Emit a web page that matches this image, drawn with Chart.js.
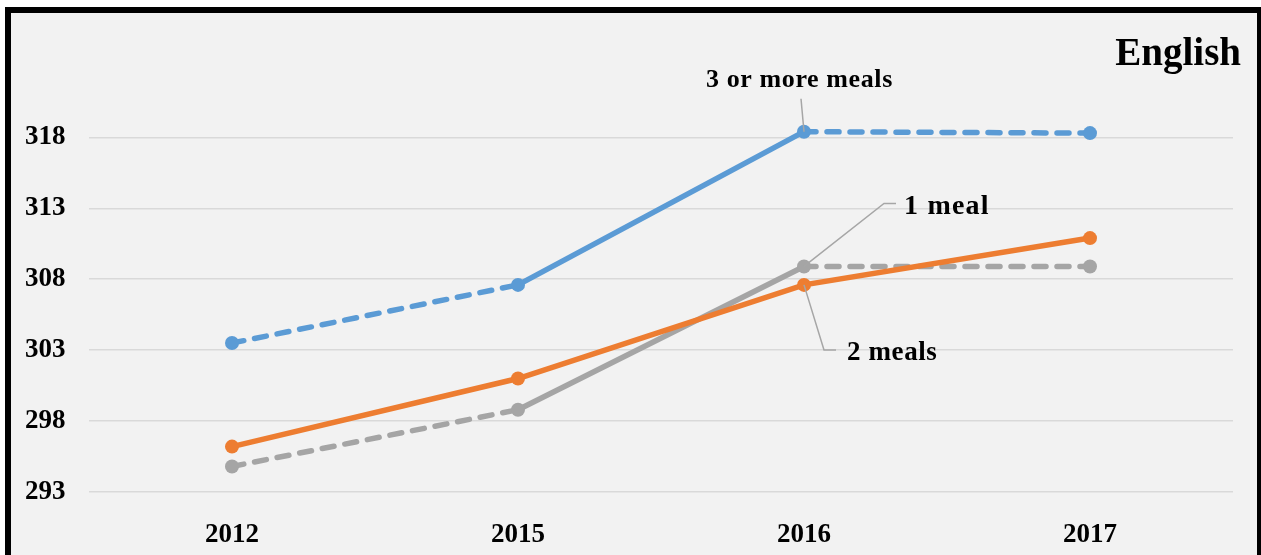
<!DOCTYPE html>
<html>
<head>
<meta charset="utf-8">
<script src="https://cdn.jsdelivr.net/npm/chart.js@4/dist/chart.umd.min.js"></script>
<style>
  body { margin: 0; background: #fff; }
  #frame {
    position: absolute; left: 5px; top: 7px;
    width: 1246px; height: 560px;
    border-left: 6px solid #000; border-top: 6px solid #000; border-right: 4px solid #000;
    background: #f2f2f2;
  }
  #wrap { position: absolute; left: 0; top: 0; width: 1261px; height: 555px; }
</style>
</head>
<body>
<div id="frame"></div>
<div id="wrap"><canvas id="english"></canvas></div>
<script>
// English scores by number of meals
const years = ['2012', '2015', '2016', '2017'];
const threeOrMore = [303.5, 307.6, 318.4, 318.3];
const twoMeals = [296.2, 301.0, 307.6, 310.9];
const oneMeal = [294.8, 298.8, 308.9, 308.9];
const yTicks = [293, 298, 303, 308, 313, 318];
const seriesNames = ['3 or more meals', '2 meals', '1 meal'];

const serif = "'Liberation Serif', 'DejaVu Serif', serif";

// dashed before 2015 and after 2016, solid in between
function dashOuter(ctx) {
    return ctx.p0DataIndex === 1 ? [] : [12, 11];
}

// title + leader-line labels at the 2016 points
const labelsPlugin = {
    id: 'labels',
    afterDatasetsDraw(chart) {
        const c = chart.ctx;
        const blue = chart.getDatasetMeta(0).data[2];
        const orange = chart.getDatasetMeta(1).data[2];
        const gray = chart.getDatasetMeta(2).data[2];
        c.save();
        c.strokeStyle = '#a6a6a6';
        c.lineWidth = 1.5;
        c.beginPath();
        c.moveTo(blue.x, blue.y);
        c.lineTo(blue.x - 3, blue.y - 33);
        c.moveTo(gray.x, gray.y);
        c.lineTo(gray.x + 80, gray.y - 63);
        c.lineTo(gray.x + 92, gray.y - 63);
        c.moveTo(orange.x, orange.y);
        c.lineTo(orange.x + 20, orange.y + 65);
        c.lineTo(orange.x + 32, orange.y + 65);
        c.stroke();

        c.fillStyle = '#000';
        c.textAlign = 'left';
        c.textBaseline = 'alphabetic';
        c.letterSpacing = '0.6px';
        c.font = 'bold 26px ' + serif;
        c.fillText(seriesNames[0], blue.x - 98, blue.y - 45);
        c.letterSpacing = '1.2px';
        c.font = 'bold 28px ' + serif;
        c.fillText(seriesNames[2], gray.x + 100, gray.y - 52);
        c.letterSpacing = '0.6px';
        c.font = 'bold 27px ' + serif;
        c.fillText(seriesNames[1], orange.x + 43, orange.y + 75);

        c.letterSpacing = '0px';
        c.textAlign = 'right';
        c.font = 'bold 39px ' + serif;
        c.fillText('English', 1241, 65);
        c.restore();
    }
};

new Chart(document.getElementById('english'), {
    type: 'line',
    data: {
        labels: years,
        datasets: [
            {
                label: seriesNames[0],
                data: threeOrMore,
                borderColor: '#5b9bd5',
                backgroundColor: '#5b9bd5',
                segment: { borderDash: dashOuter }
            },
            {
                label: seriesNames[1],
                data: twoMeals,
                borderColor: '#ed7d31',
                backgroundColor: '#ed7d31'
            },
            {
                label: seriesNames[2],
                data: oneMeal,
                borderColor: '#a5a5a5',
                backgroundColor: '#a5a5a5',
                segment: { borderDash: dashOuter }
            }
        ]
    },
    options: {
        responsive: true,
        maintainAspectRatio: false,
        animation: false,
        events: [],
        layout: { padding: { left: 25, right: 28, top: 109, bottom: 0 } },
        elements: {
            line: { borderWidth: 5.5, borderCapStyle: 'round', tension: 0 },
            point: { radius: 7, borderWidth: 0 }
        },
        plugins: {
            legend: { display: false },
            tooltip: { enabled: false }
        },
        scales: {
            x: {
                offset: true,
                grid: { display: false },
                border: { display: false },
                ticks: {
                    color: '#000',
                    padding: 19,
                    font: { family: serif, size: 27, weight: 'bold' }
                },
                afterFit(scale) { scale.height = 63; }
            },
            y: {
                min: 293,
                max: 320,
                afterBuildTicks(scale) {
                    scale.ticks = yTicks.map(v => ({ value: v }));
                },
                grid: { color: '#d9d9d9', lineWidth: 1.5, drawTicks: false },
                border: { display: false },
                ticks: {
                    color: '#000',
                    crossAlign: 'far',
                    padding: 0,
                    font: { family: serif, size: 27, weight: 'bold' }
                },
                afterFit(scale) { scale.width = 64; }
            }
        }
    },
    plugins: [labelsPlugin]
});
</script>
</body>
</html>
